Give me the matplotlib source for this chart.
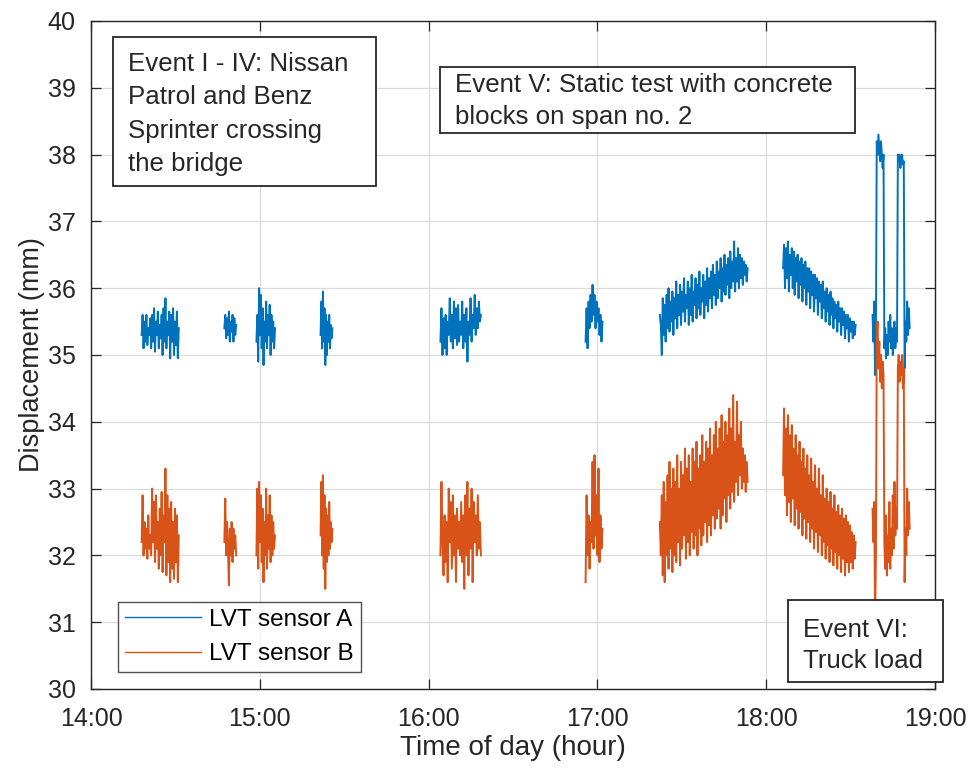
import matplotlib
matplotlib.use("Agg")
import matplotlib.pyplot as plt
import numpy as np
from matplotlib.patches import Rectangle
from matplotlib.ticker import FuncFormatter

plt.rcParams["font.family"] = ["Liberation Sans", "DejaVu Sans"]

# burst time windows (hour of day)
burst_start = [14.30, 14.79, 14.98, 15.36, 16.07, 16.93, 17.37, 18.10, 18.63]
burst_end = [14.52, 14.86, 15.09, 15.43, 16.31, 17.03, 17.89, 18.53, 18.85]

# LVT sensor A readings (mm), one list per burst
a1 = [35.3, 35.6, 35.1, 35.5, 35.2, 35.6, 35.15, 35.4, 35.3, 35.55, 35.1, 35.6, 35.2, 35.7,
      35.05, 35.5, 35.3, 35.65, 35.1, 35.45, 35.25, 35.6, 35.0, 35.7, 35.2, 35.85, 35.1, 35.5,
      35.3, 35.65, 34.95, 35.6, 35.2, 35.7, 35.0, 35.5, 35.15, 35.65, 34.95, 35.4]
a2 = [35.4, 35.6, 35.25, 35.55, 35.3, 35.65, 35.2, 35.5, 35.35, 35.6, 35.2, 35.55, 35.3, 35.45]
a3 = [35.2, 35.6, 34.9, 36.0, 35.3, 35.9, 35.1, 35.7, 34.85, 35.5, 35.2, 35.8, 35.1, 35.6,
      35.3, 35.75, 35.0, 35.6, 35.2, 35.5, 35.1, 35.4]
a4 = [35.3, 35.8, 35.1, 35.95, 35.2, 35.7, 34.85, 35.6, 35.0, 35.5, 35.2, 35.6, 35.1, 35.45,
      35.25, 35.4]
a5 = [35.2, 35.7, 35.0, 35.55, 35.1, 35.6, 35.0, 35.5, 35.3, 35.85, 35.2, 35.6, 35.1, 35.8,
      35.25, 35.7, 35.15, 35.75, 35.2, 35.5, 35.3, 35.8, 35.1, 35.6, 35.2, 35.7, 34.9, 35.5,
      35.3, 35.85, 35.2, 35.6, 35.4, 35.9, 35.3, 35.7, 35.4, 35.8, 35.5, 35.6]
a6 = [35.2, 35.7, 35.1, 35.8, 35.4, 35.9, 35.5, 36.05, 35.6, 35.9, 35.4, 35.8, 35.5, 35.7,
      35.3, 35.6, 35.2, 35.5]
a7 = [35.6, 35.45, 35.0, 35.85, 35.3, 35.75, 35.2, 35.9, 35.4, 36.0, 35.35, 35.8, 35.5, 35.95,
      35.3, 35.85, 35.55, 36.1, 35.4, 35.9, 35.6, 36.05, 35.45, 35.95, 35.65, 36.15, 35.5, 35.9,
      35.7, 36.1, 35.45, 36.0, 35.6, 36.2, 35.5, 35.95, 35.75, 36.15, 35.55, 36.05, 35.7, 36.25,
      35.6, 36.0, 35.8, 36.2, 35.55, 36.1, 35.75, 36.3, 35.65, 36.15, 35.85, 36.25, 35.7, 36.35,
      35.9, 36.2, 35.75, 36.4, 35.85, 36.25, 36.0, 36.45, 35.8, 36.3, 35.95, 36.5, 35.9, 36.35,
      36.05, 36.45, 35.85, 36.55, 36.0, 36.4, 36.1, 36.7, 35.95, 36.45, 36.1, 36.6, 36.0, 36.5,
      36.15, 36.45, 36.05, 36.4, 36.2, 36.35, 36.1, 36.3]
a8 = [36.3, 36.65, 36.0, 36.6, 36.15, 36.7, 35.95, 36.5, 36.2, 36.6, 36.0, 36.55, 35.9, 36.45,
      36.1, 36.5, 35.85, 36.4, 36.05, 36.45, 35.8, 36.35, 36.0, 36.4, 35.75, 36.3, 35.95, 36.3,
      35.7, 36.25, 35.9, 36.2, 35.65, 36.2, 35.85, 36.15, 35.6, 36.1, 35.8, 36.05, 35.55, 36.1,
      35.7, 35.95, 35.5, 36.0, 35.65, 35.9, 35.45, 35.95, 35.6, 35.85, 35.4, 35.8, 35.55, 35.75,
      35.35, 35.8, 35.5, 35.7, 35.3, 35.7, 35.45, 35.65, 35.25, 35.6, 35.4, 35.6, 35.2, 35.55,
      35.35, 35.5, 35.25, 35.5, 35.3, 35.45]
a9 = [35.6, 35.2, 35.8, 34.7, 35.4,
      38.2, 38.0, 38.3, 38.1, 37.9, 38.2, 38.0, 37.8, 38.0,
      35.1, 35.4, 34.95, 35.3, 35.0, 35.5, 35.2, 35.6, 35.1, 35.4, 35.0, 35.3, 35.5, 35.1,
      35.4, 35.2,
      38.0, 37.9, 38.0, 37.8, 37.95, 38.0, 37.85, 37.9,
      34.8, 35.5, 35.2, 35.8, 35.3, 35.7, 35.4]

# LVT sensor B readings (mm)
b1 = [32.2, 32.9, 32.0, 32.5, 32.1, 32.4, 31.95, 32.6, 32.1, 32.3, 32.0, 33.0, 32.2, 32.8,
      31.9, 32.9, 32.1, 32.5, 31.8, 32.7, 32.0, 32.95, 31.75, 32.6, 32.2, 33.3, 31.7, 32.9,
      31.9, 32.7, 31.6, 32.8, 31.8, 32.5, 31.65, 32.7, 31.9, 32.6, 31.6, 32.3]
b2 = [32.2, 32.85, 32.0, 32.5, 32.1, 31.55, 32.4, 32.0, 32.5, 31.9, 32.4, 32.1, 32.3, 32.0]
b3 = [32.0, 33.0, 31.8, 33.1, 32.2, 32.9, 31.9, 32.7, 31.6, 32.5, 32.0, 33.0, 31.8, 32.6,
      32.1, 32.9, 31.9, 32.6, 32.0, 32.5, 32.1, 32.3]
b4 = [32.3, 33.1, 32.0, 33.2, 31.8, 32.9, 31.5, 32.7, 31.9, 32.6, 32.0, 32.8, 32.1, 32.5,
      32.2, 32.4]
b5 = [32.0, 33.1, 32.2, 31.7, 32.6, 31.9, 32.5, 31.6, 33.0, 32.2, 32.8, 31.8, 32.9, 32.0,
      32.6, 31.6, 32.7, 32.1, 32.5, 32.0, 32.8, 31.9, 32.6, 31.5, 32.9, 32.0, 33.1, 31.7,
      32.7, 32.1, 33.0, 31.6, 32.8, 32.2, 32.6, 32.0, 32.9, 32.1, 32.5, 32.0]
b6 = [31.6, 32.9, 32.0, 32.6, 31.8, 32.5, 32.2, 33.4, 32.1, 33.5, 32.3, 32.9, 32.0, 33.3,
      31.9, 32.6, 32.1, 32.4]
b7 = [32.5, 32.0, 32.9, 31.7, 33.1, 31.6, 32.8, 32.0, 33.2, 31.8, 33.4, 32.1, 33.0, 31.75,
      33.3, 32.0, 33.1, 31.9, 33.5, 32.2, 33.0, 31.85, 33.4, 32.1, 33.2, 32.3, 33.6, 31.95,
      33.3, 32.2, 33.5, 32.0, 33.1, 32.35, 33.6, 32.1, 33.4, 32.3, 33.7, 32.0, 33.3, 32.4,
      33.5, 32.15, 33.8, 32.3, 33.4, 32.5, 33.7, 32.2, 33.6, 32.45, 33.9, 32.3, 33.5, 32.6,
      33.8, 32.4, 34.0, 32.55, 33.6, 32.7, 33.9, 32.4, 34.1, 32.6, 33.7, 32.85, 34.0, 32.5,
      33.8, 32.9, 34.2, 32.7, 33.9, 32.95, 34.4, 32.8, 33.7, 33.1, 34.3, 32.9, 33.8, 33.2,
      34.0, 33.0, 33.6, 33.1, 33.5, 32.95, 33.4, 33.1]
b8 = [33.2, 34.2, 32.9, 33.9, 32.6, 34.1, 32.8, 33.8, 32.5, 33.95, 32.85, 33.6, 32.45, 33.8,
      32.7, 33.5, 32.4, 33.7, 32.65, 33.4, 32.3, 33.6, 32.55, 33.3, 32.25, 33.5, 32.5, 33.2,
      32.2, 33.45, 32.4, 33.1, 32.1, 33.35, 32.35, 33.0, 32.05, 33.3, 32.3, 32.9, 32.0, 33.2,
      32.2, 32.85, 31.95, 33.0, 32.15, 32.8, 31.9, 32.95, 32.1, 32.7, 31.85, 32.9, 32.05, 32.65,
      31.8, 32.75, 32.0, 32.6, 31.75, 32.7, 31.95, 32.55, 31.7, 32.6, 31.9, 32.5, 31.75, 32.45,
      31.9, 32.35, 31.8, 32.3, 31.95, 32.2]
b9 = [32.7, 32.2, 32.8, 31.0, 32.0,
      35.3, 35.5, 34.8, 35.2, 34.6, 35.0, 34.5, 34.9, 34.7,
      32.2, 31.8, 32.6, 31.7, 32.3, 31.9, 32.8, 31.8, 32.4, 32.0, 32.9, 32.1, 33.1, 32.3,
      32.7, 32.4,
      34.8, 35.0, 34.6, 34.9, 34.7, 35.0, 34.5, 34.8,
      31.6, 32.4, 32.0, 33.0, 32.3, 32.8, 32.4]

sensor_a = [a1, a2, a3, a4, a5, a6, a7, a8, a9]
sensor_b = [b1, b2, b3, b4, b5, b6, b7, b8, b9]

x_ticks = [14, 15, 16, 17, 18, 19]
y_ticks = list(range(30, 41))

W, H = 970, 769
blue = "#0072BD"
orange = "#D95319"
ink = "#262626"


def join_bursts(bursts):
    """Concatenate bursts into one series, with NaN gaps between them."""
    ts, vs = [], []
    for t0, t1, vals in zip(burst_start, burst_end, bursts):
        ts.extend(np.linspace(t0, t1, len(vals)))
        vs.extend(vals)
        ts.append(np.nan)
        vs.append(np.nan)
    return np.array(ts), np.array(vs)


def fig_box(fig, x0, y0, x1, y1, lines, tx, ty, dy, size):
    """Text box given in image pixels (origin top-left)."""
    fig.add_artist(Rectangle((x0 / W, 1 - y1 / H), (x1 - x0) / W, (y1 - y0) / H,
                             transform=fig.transFigure, facecolor="white",
                             edgecolor=ink, lw=1.3, zorder=5))
    for i, s in enumerate(lines):
        fig.text(tx / W, 1 - (ty + i * dy) / H, s, fontsize=size, color=ink,
                 va="center", ha="left", zorder=6)


fig = plt.figure(figsize=(W / 100, H / 100), dpi=100)
ax = fig.add_axes([91 / W, 1 - 689 / H, (935 - 91) / W, (689 - 21) / H])

ta, va = join_bursts(sensor_a)
tb, vb = join_bursts(sensor_b)
ax.plot(ta, va, color=blue, lw=1.4, label="LVT sensor A")
ax.plot(tb, vb, color=orange, lw=1.4, label="LVT sensor B")

ax.set_xlim(14, 19)
ax.set_ylim(30, 40)
ax.set_xticks(x_ticks)
ax.set_yticks(y_ticks)
ax.xaxis.set_major_formatter(FuncFormatter(lambda v, p: f"{int(v)}:00"))
ax.grid(True, color="#dcdcdc", lw=0.9)
ax.set_axisbelow(True)
ax.tick_params(direction="in", length=7, width=0.9, top=True, right=True,
               labelsize=18, colors=ink)
ax.tick_params(axis="x", pad=13)
ax.tick_params(axis="y", pad=11)
for s in ax.spines.values():
    s.set_color(ink)
    s.set_linewidth(1.0)
ax.set_xlabel("Time of day (hour)", fontsize=20, color=ink, labelpad=3)
ax.set_ylabel("Displacement (mm)", fontsize=19.5, color=ink, labelpad=2)

leg = ax.legend(loc="lower left", bbox_to_anchor=(0.032, 0.025), fontsize=17.5,
                frameon=True, fancybox=False, handlelength=3.1, handletextpad=0.35,
                borderpad=0.3, labelspacing=0.5, borderaxespad=0)
leg.get_frame().set_edgecolor(ink)
leg.get_frame().set_linewidth(1.0)
for h in leg.get_lines():
    h.set_linewidth(1.0)

fig_box(fig, 113, 37, 376, 186,
        ["Event I - IV: Nissan", "Patrol and Benz", "Sprinter crossing", "the bridge"],
        128, 64, 33.5, 18.6)
fig_box(fig, 440, 67, 855, 133,
        ["Event V: Static test with concrete", "blocks on span no. 2"],
        455, 85, 32, 18.6)
fig_box(fig, 788, 600, 943, 682, ["Event VI:", "Truck load"], 803, 630, 31, 18.6)

fig.savefig("out.png", dpi=100)
